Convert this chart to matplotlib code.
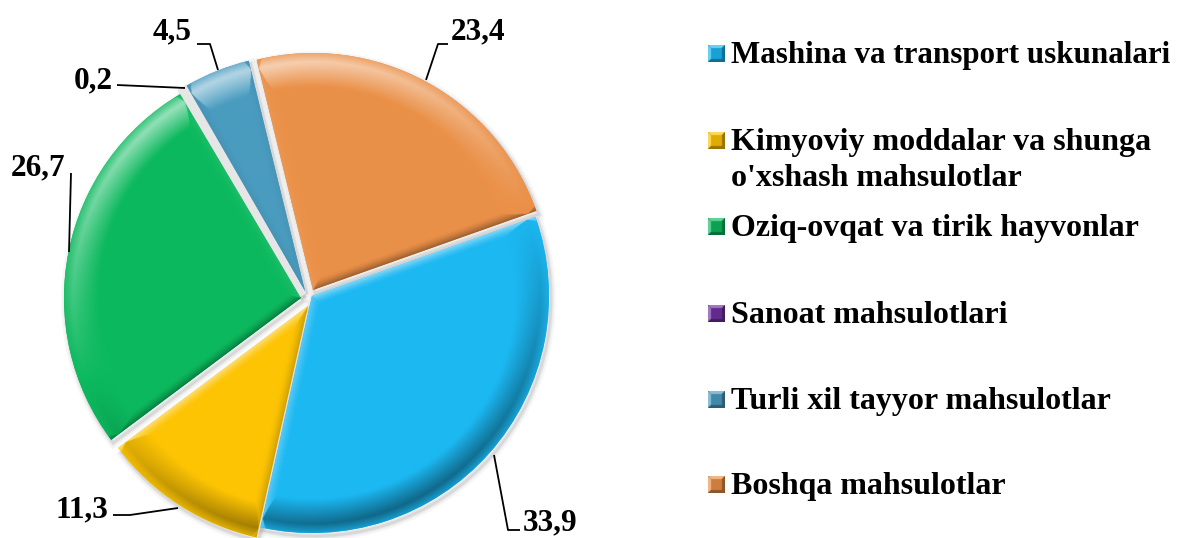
import numpy as np
import matplotlib
matplotlib.use("Agg")
import matplotlib.pyplot as plt
from matplotlib.colors import to_rgb
from matplotlib.patches import Wedge

W, H = 1186, 538

names = ["Mashina va transport uskunalari",
         "Kimyoviy moddalar va shunga\no'xshash mahsulotlar",
         "Oziq-ovqat va tirik hayvonlar",
         "Sanoat mahsulotlari",
         "Turli xil tayyor mahsulotlar",
         "Boshqa mahsulotlar"]
values = [33.9, 11.3, 26.7, 0.2, 4.5, 23.4]
value_labels = ["33,9", "11,3", "26,7", "0,2", "4,5", "23,4"]
colors = ["#1cb8f2", "#fdc404", "#0cb95e", "#7030a0", "#4a9cc0", "#ea9048"]
# slice tips in picture pixels, the slices are pulled apart unevenly
tips = [(312, 296), (308, 306), (301, 298), (303, 295), (305, 291), (313, 290)]

label_xy = [(550, 523), (82, 510), (38, 168), (93, 81), (172, 32), (478, 32)]
leaders = [[(520, 530), (508, 530), (494, 455)],
           [(113, 515), (130, 515), (178, 508)],
           [(71, 173), (69, 252)],
           [(117, 85), (185, 88)],
           [(197, 44), (210, 44), (218, 70)],
           [(448, 44), (438, 44), (426, 80)]]
legend_y = [54, 141, 227, 314, 400, 485]
legend_font = [22.3, 23, 23, 23, 23, 23]

plt.rcParams["font.family"] = ["Liberation Serif", "DejaVu Serif"]
plt.rcParams["font.weight"] = "bold"

fig = plt.figure(figsize=(W / 100, H / 100), dpi=100)
ax = fig.add_axes([0, 0, 1, 1])

wedges, _ = ax.pie(values, startangle=19.5, counterclock=False, colors=colors,
                   radius=237, center=(306, H - 294), wedgeprops={"linewidth": 0})


def shade(rgb, s):
    out = np.empty(s.shape + (3,))
    for i in range(3):
        out[..., i] = np.where(s > 0, rgb[i] + (1 - rgb[i]) * s, rgb[i] * (1 + s))
    return out


light = np.array([-0.35, 0.9])

for w, c, tip in zip(wedges, colors, tips):
    w.set_center((tip[0], H - tip[1]))
    cx, cy = w.center
    R = w.r
    # soft shadow under each slice
    for lw, a in [(7, 0.035), (4, 0.05), (2, 0.07)]:
        ax.add_patch(Wedge((cx + 2, cy - 3), R, w.theta1, w.theta2, fc="none",
                           ec="black", lw=lw, alpha=a, zorder=1))
    if w.theta2 - w.theta1 < 2:
        # this slice is so thin it only reads as a pale strip in the gap
        w.set_facecolor("#e6e6e6")
        w.set_edgecolor("#e6e6e6")
        w.set_linewidth(5)
        w.set_zorder(2)
        continue
    xs = np.arange(int(cx - R) - 2, int(cx + R) + 3, 0.5)
    ys = np.arange(int(cy - R) - 2, int(cy + R) + 3, 0.5)
    X, Y = np.meshgrid(xs, ys)
    dx, dy = X - cx, Y - cy
    r = np.hypot(dx, dy) + 1e-6
    th = np.degrees(np.arctan2(dy, dx))
    mid = (w.theta1 + w.theta2) / 2
    rel = (th - mid + 180) % 360 - 180
    half = (w.theta2 - w.theta1) / 2
    # distance to arc and both straight sides
    d_arc = R - r
    d_a = r * np.sin(np.radians(np.clip(half + rel, 0, 90)))
    d_b = r * np.sin(np.radians(np.clip(half - rel, 0, 90)))
    n_arc = (dx / r) * light[0] + (dy / r) * light[1]
    t1, t2 = np.radians(w.theta1 - 90), np.radians(w.theta2 + 90)
    n_a = np.cos(t1) * light[0] + np.sin(t1) * light[1]
    n_b = np.cos(t2) * light[0] + np.sin(t2) * light[1]
    # highlight peaks a little inside the rim
    f_arc = np.where(d_arc < 9, 0.35 + 0.65 * d_arc / 9, np.clip((34 - d_arc) / 25, 0, 1))
    f_a = np.clip(1 - d_a / 10, 0, 1) ** 1.5
    f_b = np.clip(1 - d_b / 10, 0, 1) ** 1.5
    s = np.where(f_arc >= np.maximum(f_a, f_b), n_arc * f_arc * 0.45,
                 np.where(f_a > f_b, n_a * f_a * 0.35, n_b * f_b * 0.35))
    s = np.where(s > 0, s * 1.35, s)
    img = shade(to_rgb(c), np.clip(s, -0.45, 0.55))
    im = ax.imshow(img, origin="lower", extent=(xs[0], xs[-1], ys[0], ys[-1]),
                   interpolation="bilinear", zorder=3)
    im.set_clip_path(Wedge((cx, cy), R, w.theta1, w.theta2, transform=ax.transData))
    w.set_zorder(2)

# value labels and leader lines
for txt, (x, y), pts in zip(value_labels, label_xy, leaders):
    ax.text(x, H - y, txt, fontsize=22.5, ha="center", va="center", color="black", zorder=5)
    ax.plot([p[0] for p in pts], [H - p[1] for p in pts], color="black", lw=1.3,
            solid_capstyle="butt", zorder=4)

# legend
size = 17
lx = 708
u = np.linspace(0, 1, 34)
UX, UY = np.meshgrid(u, u)
for name, c, y, fs in zip(names, colors, legend_y, legend_font):
    edge = np.minimum.reduce([UX, 1 - UX, UY, 1 - UY])
    lit = ((UY > UX) & (UY > 1 - UX)) | ((UX < UY) & (UX < 1 - UY))
    s = np.where(edge < 0.16, np.where(lit, 0.35, -0.4), -0.12)
    box_y = H - y
    ax.imshow(shade(to_rgb(c), s), origin="lower",
              extent=(lx, lx + size, box_y - size / 2, box_y + size / 2),
              interpolation="bilinear", zorder=4)
    parts = name.split("\n")
    ax.text(lx + size + 6, box_y - 9, parts[0], fontsize=fs, ha="left",
            va="baseline", color="black", zorder=5)
    if len(parts) > 1:
        ax.text(lx + size + 6, box_y - 45, parts[1], fontsize=fs, ha="left",
                va="baseline", color="black", zorder=5)

ax.set_aspect("equal")
ax.set_xlim(0, W)
ax.set_ylim(0, H)
ax.axis("off")

fig.savefig("out.png", dpi=100)
